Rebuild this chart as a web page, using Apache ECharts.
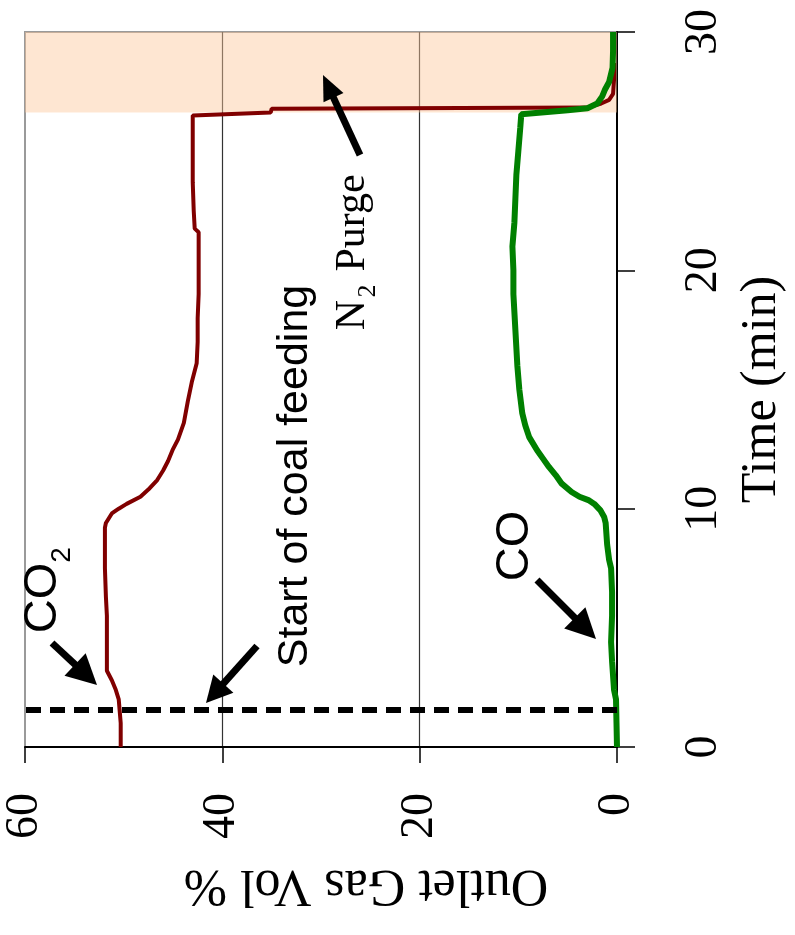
<!DOCTYPE html>
<html>
<head>
<meta charset="utf-8">
<script src="https://cdn.jsdelivr.net/npm/echarts@6/dist/echarts.min.js"></script>
<style>
  html, body { margin: 0; padding: 0; background: #fff; }
  #chart { width: 795px; height: 935px; }
</style>
</head>
<body>
<div id="chart"></div>
<script>
// ---- Data (time in min, gas in vol %) ----
const gasTicks = [0, 20, 40, 60];
const timeTicks = [0, 10, 20, 30];

const timeCO2 = [0, 0.5, 1.0, 1.5, 2.0, 2.4, 2.8, 3.2, 3.6, 4.5, 5.5, 6.3, 7.5, 8.5, 9.2, 9.4, 9.8, 10.0, 10.2, 10.5, 10.8, 11.2, 11.6, 12.0, 12.5, 12.9, 13.6, 14.5, 15.3, 16.1, 17.0, 18.0, 19.0, 20.0, 20.8, 21.6, 21.75, 22.5, 23.7, 25.0, 26.0, 26.5, 26.58, 26.62, 26.78, 26.83, 27.0, 27.15, 27.4, 28.0, 28.7];
const co2Vals  = [50.3, 50.3, 50.3, 50.4, 50.5, 50.8, 51.2, 51.7, 51.7, 51.7, 51.7, 51.8, 51.9, 51.9, 51.9, 51.8, 51.2, 50.5, 49.7, 48.3, 47.5, 46.6, 46.0, 45.5, 45.0, 44.5, 43.9, 43.5, 43.1, 42.6, 42.5, 42.5, 42.4, 42.4, 42.4, 42.4, 42.8, 42.9, 43.0, 43.0, 43.0, 43.0, 43.2, 35.1, 35.0, 3.0, 1.6, 0.8, 0.4, 0.3, 0.3];

const timeCO = [0, 1.0, 2.0, 2.4, 3.0, 3.6, 4.4, 5.5, 6.5, 7.5, 7.85, 8.5, 9.4, 9.65, 9.94, 10.2, 10.36, 10.5, 10.7, 11.05, 11.4, 11.75, 12.1, 12.45, 13.0, 13.5, 14.0, 15.0, 16.0, 17.5, 19.0, 20.0, 21.0, 22.0, 23.0, 24.0, 25.0, 26.0, 26.55, 26.62, 26.72, 26.8, 27.0, 27.3, 27.6, 27.9, 28.5, 29.2, 30.0];
const coVals   = [0.0, 0.05, 0.1, 0.3, 0.4, 0.5, 0.6, 0.5, 0.5, 0.6, 0.8, 1.0, 1.15, 1.3, 1.7, 2.3, 2.9, 3.8, 4.6, 5.6, 6.2, 6.9, 7.5, 8.1, 8.9, 9.3, 9.6, 9.9, 10.1, 10.3, 10.5, 10.5, 10.6, 10.4, 10.3, 10.2, 10.0, 9.8, 9.7, 9.6, 5.0, 3.0, 2.0, 1.5, 1.2, 0.8, 0.45, 0.4, 0.4];

const coalFeedStart = 1.58;     // min, dashed line
const purgeStart = 26.62;       // min, shaded N2 purge region
const purgeEnd = 30;

// ---- Styling ----
const SERIF = "'Liberation Serif', 'Times New Roman', serif";
const SANS = "'Liberation Sans', Arial, sans-serif";

const chart = echarts.init(document.getElementById('chart'), null, { renderer: 'canvas' });

function arrow(x1, y1, x2, y2, hl, hw, lw) {
  const dx = x2 - x1, dy = y2 - y1;
  const len = Math.sqrt(dx * dx + dy * dy);
  const ux = dx / len, uy = dy / len;
  const nx = -uy, ny = ux;
  const bx = x2 - ux * hl, by = y2 - uy * hl;
  return [
    { type: 'line', z: 20, shape: { x1: x1, y1: y1, x2: bx + ux * 2, y2: by + uy * 2 },
      style: { stroke: '#000', lineWidth: lw } },
    { type: 'polygon', z: 20, shape: { points: [[x2, y2], [bx + nx * hw / 2, by + ny * hw / 2], [bx - nx * hw / 2, by - ny * hw / 2]] },
      style: { fill: '#000' } }
  ];
}

function vtext(text, x, y, family, size) {
  return { type: 'text', z: 20, x: x, y: y, rotation: Math.PI / 2,
    style: { text: text, align: 'center', verticalAlign: 'middle', fill: '#000',
      fontFamily: family, fontSize: size } };
}

const graphics = [].concat(
  arrow(52, 643, 97, 685, 30, 31, 7),
  arrow(257, 646, 206, 703, 26, 27, 7),
  arrow(537, 580, 596, 639, 30, 30, 7),
  arrow(360, 155, 323, 75, 25, 22, 7),
  [
    vtext('CO', 43.5, 598, SANS, 47),
    vtext('2', 62.5, 555, SANS, 28),
    vtext('CO', 515.5, 546, SANS, 47),
    vtext('Start of coal feeding', 295, 476, SANS, 43),
    vtext('N', 352.7, 315, SERIF, 42),
    vtext('2', 368, 291, SERIF, 26),
    vtext('Purge', 352.7, 223, SERIF, 42)
  ]
);

const option = {
  animation: false,
  backgroundColor: '#fff',
  grid: { left: 25, top: 32, width: 592, height: 715, show: true, borderColor: '#9a9a9a', borderWidth: 2, containLabel: false },
  xAxis: {
    type: 'value',
    min: gasTicks[0], max: gasTicks[gasTicks.length - 1], interval: gasTicks[1] - gasTicks[0],
    inverse: true,
    position: 'bottom',
    name: 'Outlet Gas Vol %',
    nameLocation: 'middle',
    nameRotate: 180,
    nameGap: 112,
    nameTextStyle: { fontFamily: SERIF, fontSize: 52, color: '#000', padding: [0, 90, 0, 0] },
    axisLine: { show: true, onZero: false, lineStyle: { color: '#000', width: 2 } },
    axisTick: { show: true, length: 16, lineStyle: { color: '#000', width: 1.5 } },
    axisLabel: { rotate: 90, margin: 46, fontFamily: SERIF, fontSize: 46, color: '#000',
      formatter: v => gasTicks.includes(v) ? String(v) : '' },
    splitLine: { show: true, showMinLine: false, showMaxLine: false, lineStyle: { color: '#333', width: 1.2 } }
  },
  yAxis: {
    type: 'value',
    min: timeTicks[0], max: timeTicks[timeTicks.length - 1], interval: timeTicks[1] - timeTicks[0],
    position: 'right',
    name: 'Time (min)',
    nameLocation: 'middle',
    nameRotate: 90,
    nameGap: 120,
    nameTextStyle: { fontFamily: SERIF, fontSize: 50, color: '#000' },
    axisLine: { show: true, onZero: false, lineStyle: { color: '#000', width: 2 } },
    axisTick: { show: true, length: 18, lineStyle: { color: '#000', width: 1.5 } },
    axisLabel: { rotate: 90, margin: 64, fontFamily: SERIF, fontSize: 46, color: '#000',
      formatter: v => timeTicks.includes(v) ? String(v) : '' },
    splitLine: { show: false }
  },
  graphic: graphics,
  series: [
    {
      name: 'N2 Purge', type: 'line', data: [], z: 1, silent: true,
      markArea: {
        silent: true,
        itemStyle: { color: 'rgba(253, 200, 155, 0.45)' },
        data: [[{ yAxis: purgeStart }, { yAxis: purgeEnd }]]
      }
    },
    {
      name: 'CO2', type: 'line', z: 3,
      data: timeCO2.map((t, i) => [co2Vals[i], t]),
      showSymbol: false, symbol: 'none',
      lineStyle: { color: '#800000', width: 4 },
      itemStyle: { color: '#800000' }
    },
    {
      name: 'CO', type: 'line', z: 4,
      data: timeCO.map((t, i) => [coVals[i], t]),
      showSymbol: false, symbol: 'none',
      lineStyle: { color: '#008000', width: 6 },
      itemStyle: { color: '#008000' }
    },
    {
      name: 'Start of coal feeding', type: 'line', data: [], z: 6, silent: true,
      markLine: {
        silent: true, symbol: ['none', 'none'],
        label: { show: false },
        lineStyle: { color: '#000', width: 6, type: [15, 9] },
        data: [{ yAxis: coalFeedStart }]
      }
    }
  ]
};
chart.setOption(option);
</script>
</body>
</html>
